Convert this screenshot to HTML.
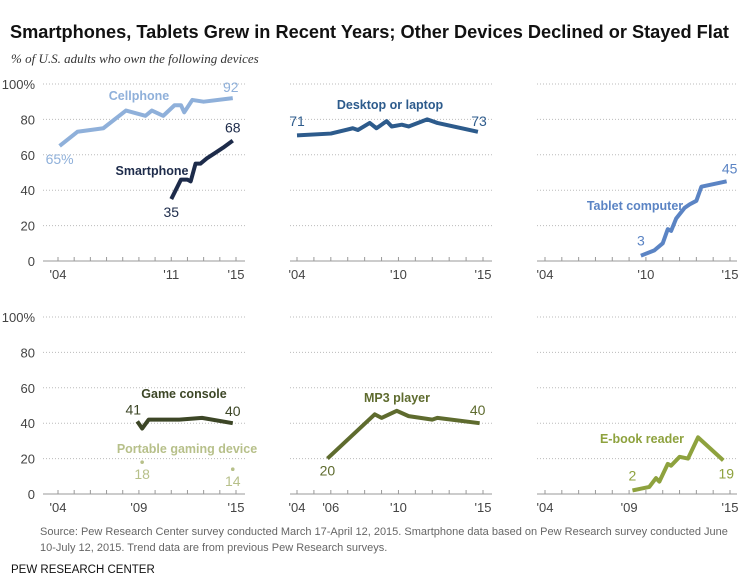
<!DOCTYPE html>
<html><head><meta charset="utf-8"><style>
body{margin:0;background:#fff;width:753px;height:579px;overflow:hidden}
svg text{font-family:"Liberation Sans",sans-serif}
</style></head><body>
<svg id="c" width="753" height="579">
<text x="10" y="38" font-size="18.2" font-weight="bold" fill="#111">Smartphones, Tablets Grew in Recent Years; Other Devices Declined or Stayed Flat</text>
<text x="11" y="63" font-size="13" font-style="italic" fill="#333" style="font-family:'Liberation Serif',serif">% of U.S. adults who own the following devices</text>
<text x="40" y="535" font-size="11" fill="#666" style="font-family:'Liberation Sans Narrow','Liberation Sans',sans-serif">Source:  Pew Research Center survey conducted March 17-April 12, 2015. Smartphone data based on Pew Research survey conducted June</text>
<text x="40" y="551" font-size="11" fill="#666" style="font-family:'Liberation Sans Narrow','Liberation Sans',sans-serif">10-July 12, 2015. Trend data are from previous Pew Research surveys.</text>
<text x="11" y="573" font-size="11.5" fill="#111" style="font-family:'Liberation Sans Narrow','Liberation Sans',sans-serif">PEW RESEARCH CENTER</text>
<g id="g"></g>
</svg>
<script>
const cellYears=[2004.1,2005.2,2006.8,2008.2,2009.4,2009.8,2010.5,2011.2,2011.6,2011.8,2012.3,2013,2014.8];
const cellVals=[65,73,75,85,82,85,82,88,88,84,91,90,92];
const smartYears=[2011.0,2011.6,2012.0,2012.2,2012.5,2012.8,2013.2,2013.7,2014.2,2014.8];
const smartVals=[35,46,46,45,55,55,58,61,64,68];
const deskYears=[2004,2006,2007.3,2007.6,2008.3,2008.7,2009.3,2009.6,2010.2,2010.6,2011.7,2012.3,2014.7];
const deskVals=[71,72,75,74,78,75,79,76,77,76,80,78,73];
const tabYears=[2009.7,2010.5,2011,2011.3,2011.5,2011.8,2012.3,2012.6,2013,2013.3,2014.8];
const tabVals=[3,6,10,18,17,24,30,32,34,42,45];
const gameYears=[2008.9,2009.2,2009.6,2011.5,2012.9,2014.8];
const gameVals=[41,37,42,42,43,40];
const portYears=[2009.2,2014.8];
const portVals=[18,14];
const mp3Years=[2005.8,2008.6,2009,2009.9,2010.6,2012,2012.3,2014.8];
const mp3Vals=[20,45,43,47,44,42,43,40];
const ebookYears=[2009.2,2009.7,2010.2,2010.6,2010.8,2011.3,2011.5,2012,2012.5,2013.1,2014.6];
const ebookVals=[2,3,4,9,7,17,16,21,20,32,19];
const yTicks=[0,20,40,60,80,100];
const yTickLabels=["0","20","40","60","80","100%"];

const NS="http://www.w3.org/2000/svg",G=document.getElementById('g');
const panels=[{l:43,r:245,x04:58,x15:236},{l:290,r:492,x04:297,x15:483},{l:537,r:737,x04:545,x15:730}];
const rows=[{top:84,bot:261},{top:317,bot:494}];
function xs(p,yr){const P=panels[p];return P.x04+(yr-2004)*(P.x15-P.x04)/11;}
function ys(r,v){const R=rows[r];return R.bot-(v/100)*(R.bot-R.top);}
function el(t,a,txt){const e=document.createElementNS(NS,t);for(const k in a)e.setAttribute(k,a[k]);if(txt!=null)e.textContent=txt;G.appendChild(e);return e;}
const xlabels=[[["'04",2004],["'11",2011],["'15",2015]],[["'04",2004],["'10",2010],["'15",2015]],[["'04",2004],["'10",2010],["'15",2015]],
[["'04",2004],["'09",2009],["'15",2015]],[["'04",2004],["'06",2006],["'10",2010],["'15",2015]],[["'04",2004],["'09",2009],["'15",2015]]];
for(let r=0;r<2;r++)for(let p=0;p<3;p++){
  const P=panels[p];
  yTicks.forEach((t,i)=>{
    const y=ys(r,t);
    if(t>0){const ln=el('line',{x1:P.l,x2:P.r,y1:y,y2:y,stroke:'#bbb','stroke-width':1,'stroke-dasharray':'1,2'});
      }
    if(p==0){const tx=el('text',{x:35,y:y+5,'text-anchor':'end','font-size':13,fill:'#444'},yTickLabels[i]);
      }
  });
  const ax=el('line',{x1:P.l,x2:P.r,y1:rows[r].bot,y2:rows[r].bot,stroke:'#999','stroke-width':1});
  
  for(let yr=2004;yr<=2015;yr++){const x=xs(p,yr);const tk=el('line',{x1:x,x2:x,y1:rows[r].bot,y2:rows[r].bot-4,stroke:'#999'});
    }
  xlabels[r*3+p].forEach(([s,yr])=>{const tx=el('text',{x:xs(p,yr),y:rows[r].bot+18,'text-anchor':'middle','font-size':13,fill:'#444'},s);
    });
}
function line(p,r,yrs,vals,col,name){
  const pl=el('polyline',{points:yrs.map((y,i)=>xs(p,y)+','+ys(r,vals[i])).join(' '),fill:'none',stroke:col,'stroke-width':4,'stroke-linejoin':'round'});
  
}
function lab(x,y,s,col,bold,name,anchor){
  const t=el('text',{x:x,y:y,'font-size':bold?12.5:14,'font-weight':bold?'bold':'normal',fill:col,'text-anchor':anchor||'middle'},s);
  
}
line(0,0,cellYears,cellVals,'#8fb0da','cellphone-line');
line(0,0,smartYears,smartVals,'#1d2b4a','smartphone-line');
line(1,0,deskYears,deskVals,'#2d5b8c','desktop-line');
line(2,0,tabYears,tabVals,'#5b84c4','tablet-line');
line(0,1,gameYears,gameVals,'#3c4626','game-console-line');
line(1,1,mp3Years,mp3Vals,'#5e6b2e','mp3-line');
line(2,1,ebookYears,ebookVals,'#8ea23e','ebook-line');
portYears.forEach((y,i)=>{const c=el('circle',{cx:xs(0,y),cy:ys(1,portVals[i]),r:1.8,fill:'#b7c08a'});
  });
const last=a=>a[a.length-1];
lab(139,100,'Cellphone','#8fb0da',1,'cellphone-label');
lab(xs(0,cellYears[0]),ys(0,cellVals[0])+18,'65%','#8fb0da',0,'cellphone-start-value');
lab(xs(0,last(cellYears))-2,ys(0,last(cellVals))-6,'92','#8fb0da',0,'cellphone-end-value');
lab(152,175,'Smartphone','#1d2b4a',1,'smartphone-label');
lab(xs(0,smartYears[0]),ys(0,smartVals[0])+18,'35','#1d2b4a',0,'smartphone-start-value');
lab(xs(0,last(smartYears)),ys(0,last(smartVals))-8,'68','#1d2b4a',0,'smartphone-end-value');
lab(390,109,'Desktop or laptop','#2d5b8c',1,'desktop-label');
lab(297,126,'71','#2d5b8c',0,'desktop-start-value');
lab(479,126,'73','#2d5b8c',0,'desktop-end-value');
lab(635,210,'Tablet computer','#5b84c4',1,'tablet-label');
lab(xs(2,tabYears[0]),ys(0,tabVals[0])-10,'3','#5b84c4',0,'tablet-start-value');
lab(xs(2,last(tabYears))+3,ys(0,last(tabVals))-8,'45','#5b84c4',0,'tablet-end-value');
lab(184,398,'Game console','#3c4626',1,'game-console-label');
lab(xs(0,gameYears[0])-4,ys(1,gameVals[0])-7,'41','#3c4626',0,'game-console-start-value');
lab(xs(0,last(gameYears)),ys(1,last(gameVals))-7,'40','#3c4626',0,'game-console-end-value');
lab(187,453,'Portable gaming device','#b7c08a',1,'portable-gaming-label');
lab(xs(0,portYears[0]),ys(1,portVals[0])+17,'18','#b7c08a',0,'portable-start-value');
lab(xs(0,last(portYears)),ys(1,last(portVals))+17,'14','#b7c08a',0,'portable-end-value');
lab(397,402,'MP3 player','#5e6b2e',1,'mp3-label');
lab(xs(1,mp3Years[0]),ys(1,mp3Vals[0])+17,'20','#5e6b2e',0,'mp3-start-value');
lab(xs(1,last(mp3Years))-2,ys(1,last(mp3Vals))-8,'40','#5e6b2e',0,'mp3-end-value');
lab(642,443,'E-book reader','#8ea23e',1,'ebook-label');
lab(xs(2,ebookYears[0]),ys(1,ebookVals[0])-10,'2','#8ea23e',0,'ebook-start-value');
lab(xs(2,last(ebookYears))+3,ys(1,last(ebookVals))+18,'19','#8ea23e',0,'ebook-end-value');
</script>
</body></html>
